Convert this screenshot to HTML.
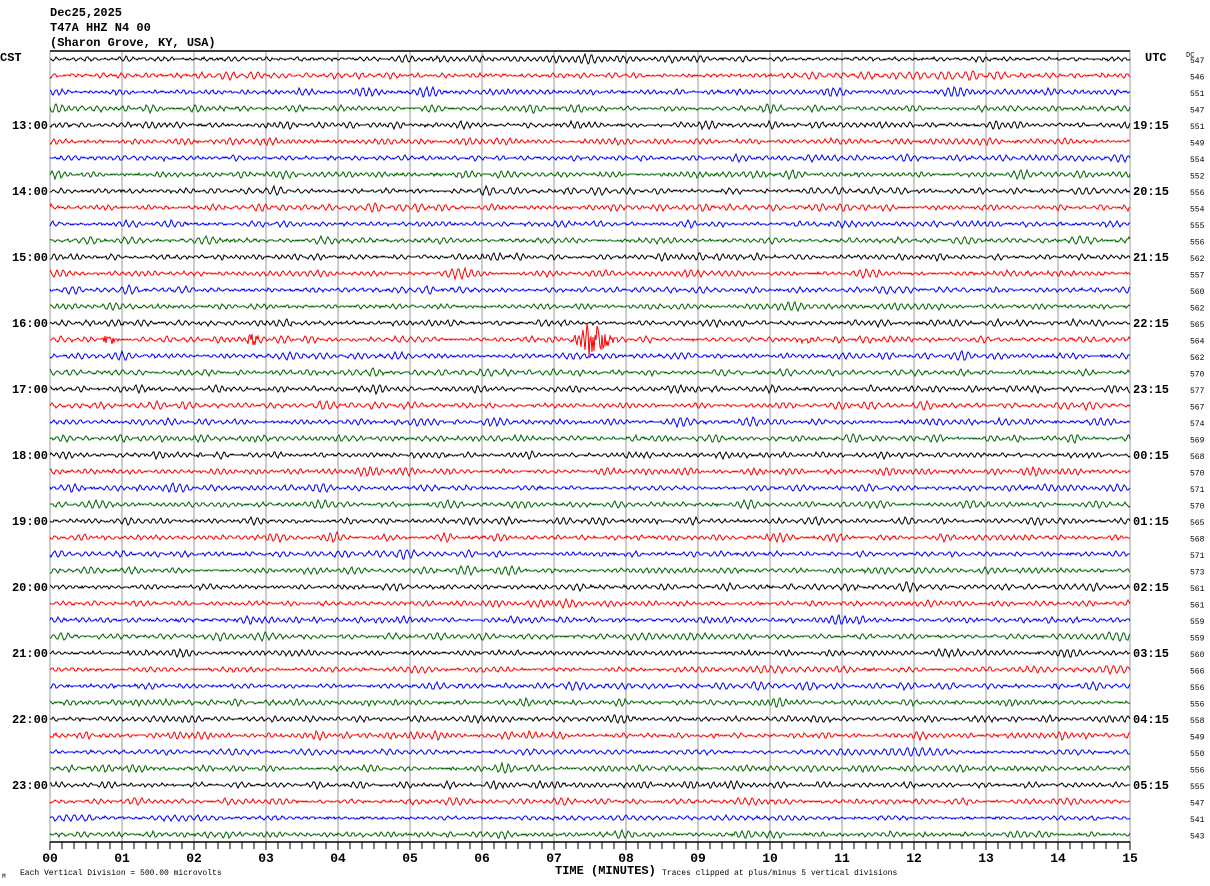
<!DOCTYPE html>
<html><head><meta charset="utf-8"><style>
html,body{margin:0;padding:0;background:#fff;width:1210px;height:886px;overflow:hidden}
svg{display:block}
text{font-family:"Liberation Mono","DejaVu Sans Mono",monospace}
</style></head><body>
<svg id="chart" width="1210" height="886" viewBox="0 0 1210 886" xmlns="http://www.w3.org/2000/svg">
<g font-size="12" font-weight="bold" fill="#000">
<text x="50" y="16">Dec25,2025</text>
<text x="50" y="31">T47A HHZ N4 00</text>
<text x="50" y="46">(Sharon Grove, KY, USA)</text>
<text x="0" y="61">CST</text>
<text x="1145" y="61">UTC</text>
<text x="1186" y="57" font-size="7" font-weight="normal">DC</text>
</g>
<g id="grid"></g>
<g id="traces"></g>
<g id="frame"></g>
<g id="labels"></g>
<g fill="#000">
<text x="555" y="874" font-size="12" font-weight="bold">TIME (MINUTES)</text>
<text x="662" y="875" font-size="8">Traces clipped at plus/minus 5 vertical divisions</text>
<text x="20" y="875" font-size="8">Each Vertical Division =  500.00 microvolts</text>
<text x="2" y="878" font-size="6">M</text>
</g>
</svg>
<script>
const hourLabels = ["13:00","14:00","15:00","16:00","17:00","18:00","19:00","20:00","21:00","22:00","23:00"];
const utcLabels = ["19:15","20:15","21:15","22:15","23:15","00:15","01:15","02:15","03:15","04:15","05:15"];
const dcValues = [547,546,551,547,551,549,554,552,556,554,555,556,562,557,560,562,565,564,562,570,577,567,574,569,568,570,571,570,565,568,571,573,561,561,559,559,560,566,556,556,558,549,550,556,555,547,541,543];
const minuteTicks = ["00","01","02","03","04","05","06","07","08","09","10","11","12","13","14","15"];
// event bursts: [traceIndex, startMinute, endMinute, peakAmplitudeDivisions]
const eventTrace = [17,17,17,17];
const eventStart = [0.5,2.6,6.9,10.2];
const eventEnd = [1.1,3.0,8.0,10.8];
const eventPeak = [0.5,0.5,2.0,0.4];
const eventCenter = [0.8,2.8,7.55,10.5];

const NS="http://www.w3.org/2000/svg";
const X0=50,X1=1130,Y0=59,DY=16.5,TOP=51,BOT=842;
const xMin=m=>X0+m*(X1-X0)/15;
const yTrace=i=>Y0+i*DY;
const colors=["#000000","#ff0000","#0000ff","#006400"];
function mk(tag,attrs,parent){const e=document.createElementNS(NS,tag);for(const k in attrs)e.setAttribute(k,attrs[k]);parent.appendChild(e);return e;}
const grid=document.getElementById('grid'),traces=document.getElementById('traces'),frame=document.getElementById('frame'),labels=document.getElementById('labels');
for(let m=0;m<=15;m++){
  const l=mk('line',{x1:xMin(m),x2:xMin(m),y1:TOP,y2:BOT,stroke:'#999','stroke-width':1},grid);
  
  
}
// seeded generator for background noise texture
let seed=12345;function rnd(){seed=(seed*1103515245+12345)&0x7fffffff;return seed/0x7fffffff;}
for(let i=0;i<dcValues.length;i++){
  const y0=yTrace(i);
  const comps=[];for(let k=0;k<4;k++)comps.push({f:0.75+rnd()*0.35,p:rnd()*6.28});
  const env=[];for(let k=0;k<60;k++)env.push(0.5+rnd()*0.9);
  let d='';
  for(let x=X0;x<=X1;x++){
    const t=x-X0;
    const ek=t/19,e0=Math.floor(ek),fr=ek-e0;
    const e=env[e0]*(1-fr)+env[Math.min(e0+1,59)]*fr;
    let v=0;for(const c of comps)v+=Math.sin(t*c.f+c.p);
    v=v*0.95*e+(rnd()-0.5)*1.6;
    const m=t*15/(X1-X0);
    for(let k=0;k<eventTrace.length;k++){
      if(eventTrace[k]===i&&m>=eventStart[k]&&m<=eventEnd[k]){
        const w=(eventEnd[k]-eventStart[k])/2;
        const g=Math.exp(-Math.pow((m-eventCenter[k])/(w*0.35),2));
        v+=(rnd()-0.5)*2*eventPeak[k]*10*g;
      }
    }
    v=Math.max(-82,Math.min(82,v));
    d+=(x===X0?'M':'L')+x+' '+Math.round(y0+v);
  }
  const p=mk('path',{d:d,fill:'none',stroke:colors[i%4],'stroke-width':1},traces);
  
  
  const t=mk('text',{x:1190,y:y0+4,'font-size':8,fill:'#000'},labels);
  t.textContent=dcValues[i];
  
  
}
hourLabels.forEach((h,k)=>{
  const y=yTrace(4+4*k)+4;
  const t=mk('text',{x:48,y:y,'font-size':12,'font-weight':'bold','text-anchor':'end',fill:'#000'},labels);
  t.textContent=h;
  
  
  const u=mk('text',{x:1133,y:y,'font-size':12,'font-weight':'bold',fill:'#000'},labels);
  u.textContent=utcLabels[k];
  
  
});
let f=mk('line',{x1:X0,x2:X1,y1:TOP,y2:TOP,stroke:'#000','stroke-width':1.5},frame);


f=mk('line',{x1:X0,x2:X1,y1:BOT,y2:BOT,stroke:'#000','stroke-width':1.5},frame);


for(let s=0;s<=90;s++){
  const x=X0+s*12,major=s%6===0;
  const tk=mk('line',{x1:x,x2:x,y1:BOT,y2:BOT+(major?8:7),stroke:'#000','stroke-width':1},frame);
  
  
}
minuteTicks.forEach((lab,m)=>{
  const t=mk('text',{x:xMin(m),y:862,'font-size':13,'font-weight':'bold','text-anchor':'middle',fill:'#000'},labels);
  t.textContent=lab;
  
  
});
</script>
</body></html>
